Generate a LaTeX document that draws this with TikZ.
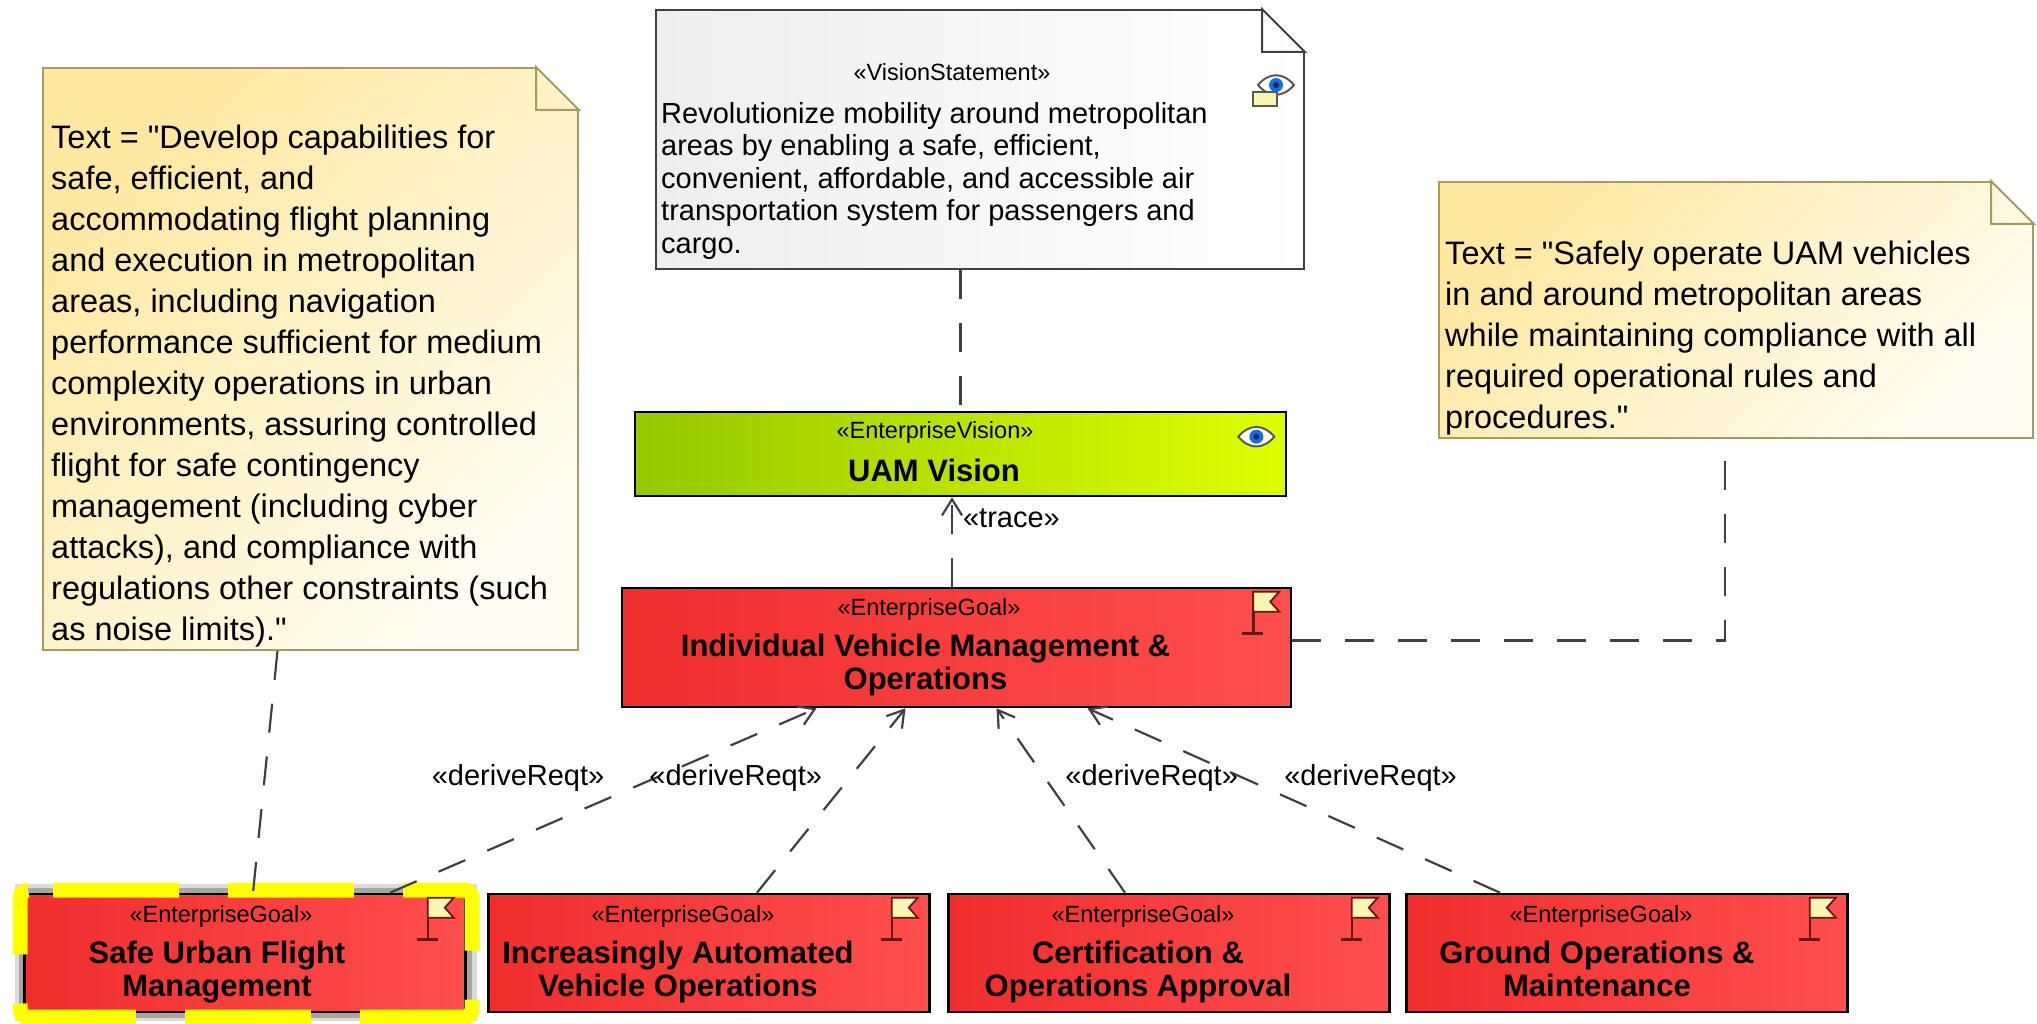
\documentclass[tikz,border=0pt]{standalone}
\usepackage{fontspec}
\setmainfont{Liberation Sans}[Ligatures=TeXOff]
\usetikzlibrary{arrows.meta,positioning}

\definecolor{goalred}{RGB}{240,46,46}
\definecolor{goalredlight}{RGB}{255,78,78}
\definecolor{visgreen}{RGB}{150,200,0}
\definecolor{visyellow}{RGB}{222,255,0}
\definecolor{noteyellow}{RGB}{255,232,160}
\definecolor{notewhite}{RGB}{255,253,242}
\definecolor{noteborder}{RGB}{168,152,98}
\definecolor{visgray}{RGB}{238,238,238}
\definecolor{linkgray}{RGB}{64,64,64}
\definecolor{eyeblue}{RGB}{20,110,230}
\definecolor{flagpole}{RGB}{110,20,20}
\definecolor{flagfill}{RGB}{248,246,175}
\definecolor{hiyellow}{RGB}{255,255,0}

\newcommand{\notefont}{\fontsize{32.5}{41}\selectfont}
\newcommand{\visfont}{\fontsize{29}{32.5}\selectfont}
\newcommand{\stereofont}{\fontsize{23.5}{28}\selectfont}
\newcommand{\titlefont}{\fontsize{31}{33}\selectfont\bfseries}
\newcommand{\linkfont}{\fontsize{29}{32}\selectfont}

% folded corner of a note
\newcommand{\notefold}[2]{%
  \fill[white] ([shift={(-43,0)}]#1.north east) -- ++(0,-3) -- ++(46,0) -- ++(0,46) -- ++(-3,0) -- cycle;
  \draw[#2, line width=2pt, line join=miter] ([shift={(-43,0)}]#1.north east) -- ++(0,43) -- ++(43,0) -- cycle;
}
% goal flag
\newcommand{\goalflag}[1]{%
  \begin{scope}[shift={(#1.north east)}]
    \draw[flagpole, line width=2.5pt] (-39,5) -- (-39,47);
    \draw[flagpole, line width=2.5pt] (-50,47) -- (-29,47);
    \draw[flagpole, line width=1.8pt, fill=flagfill] (-39,5) -- (-13,5) -- (-22,15) -- (-13,25) -- (-39,25) -- cycle;
  \end{scope}}
% eye
\newcommand{\eyeicon}[1]{%
  \begin{scope}[shift={(#1)}]
    \draw[gray!70!black, line width=2pt, fill=white] (-18,0) .. controls (-7,-13) and (7,-13) .. (18,0) .. controls (7,13) and (-7,13) .. (-18,0) -- cycle;
    \fill[eyeblue] (0,0) circle (7);
    \fill[eyeblue!40!black] (0,0) circle (3);
  \end{scope}}

\tikzset{
  goalbox/.style={draw=black, line width=2.6pt, left color=goalred, right color=goalredlight,
    minimum width=441pt, minimum height=118pt, inner sep=0pt},
  visionbox/.style={draw=black, line width=2.6pt, left color=visgreen, right color=visyellow,
    minimum width=651pt, minimum height=84pt, inner sep=0pt},
  notebox/.style={draw=noteborder, line width=2pt, top color=noteyellow, bottom color=notewhite,
    shading angle=45, inner sep=0pt},
  statebox/.style={draw=black!75, line width=2pt, left color=visgray, right color=white, inner sep=0pt},
  stereo/.style={font=\stereofont, inner sep=0pt},
  goaltitle/.style={font=\titlefont, align=center, inner sep=0pt},
  notetext/.style={font=\notefont, align=left, inner sep=0pt, anchor=north west},
  link/.style={draw=linkgray, line width=2.2pt, dash pattern=on 29pt off 24pt},
  derive/.style={link, -{Straight Barb[length=16pt,width=20pt]}},
  linklabel/.style={font=\linkfont, inner sep=0pt},
}

\begin{document}
\begin{tikzpicture}[x=1pt, y=-1pt]
  \useasboundingbox (0,0) rectangle (2037,1024);

  % notes
  \node[notebox, minimum width=535pt, minimum height=582pt] (lnote) at (310.5,359) {};
  \notefold{lnote}{noteborder}
  \node[notetext] (lnote-t) at ([shift={(9,58)}]lnote.north west) {Text = "Develop capabilities for\\
    safe, efficient, and\\
    accommodating flight planning\\
    and execution in metropolitan\\
    areas, including navigation\\
    performance sufficient for medium\\
    complexity operations in urban\\
    environments, assuring controlled\\
    flight for safe contingency\\
    management (including cyber\\
    attacks), and compliance with\\
    regulations other constraints (such\\
    as noise limits)."};

  \node[statebox, minimum width=648pt, minimum height=259pt] (vision) at (980,139.5) {};
  \notefold{vision}{black!75}
  \node[stereo] (vision-s) at ([shift={(-28,63)}]vision.north) {«VisionStatement»};
  \node[notetext, font=\visfont] (vision-t) at ([shift={(6,93)}]vision.north west) {Revolutionize mobility around metropolitan\\
    areas by enabling a safe, efficient,\\
    convenient, affordable, and accessible air\\
    transportation system for passengers and\\
    cargo.};
  \eyeicon{[shift={(-29,76)}]vision.north east}
  \draw[gray!70!black, line width=1.5pt, fill=flagfill] ([shift={(-52,83)}]vision.north east) rectangle ([shift={(-28,97)}]vision.north east);

  \node[notebox, minimum width=594pt, minimum height=256pt] (rnote) at (1736,310) {};
  \notefold{rnote}{noteborder}
  \node[notetext] (rnote-t) at ([shift={(7,60)}]rnote.north west) {Text = "Safely operate UAM vehicles\\
    in and around metropolitan areas\\
    while maintaining compliance with all\\
    required operational rules and\\
    procedures."};

  % vision and goals
  \node[visionbox] (uam) at (960.5,454) {};
  \node[stereo] (uam-s) at ([shift={(-25.5,22)}]uam.north) {«EnterpriseVision»};
  \node[goaltitle] (uam-t) at ([shift={(-26.5,16)}]uam.center) {UAM Vision};
  \eyeicon{[shift={(-31,26)}]uam.north east}

  \node[goalbox, minimum width=669pt, minimum height=119pt] (ivm) at (956.5,647.5) {};
  \node[stereo] (ivm-s) at ([shift={(-27.5,23)}]ivm.north) {«EnterpriseGoal»};
  \node[goaltitle] (ivm-t) at ([shift={(-31,19)}]ivm.center) {Individual Vehicle Management \&\strut\\Operations\strut};
  \goalflag{ivm}

  % selection highlight
  \fill[gray!35, opacity=0.8] (15,884) rectangle (477,1021);
  \fill[gray!70] (19,888) rectangle (472,1018);
  \node[goalbox] (sufm) at (245,953) {};
  \draw[hiyellow, line width=15pt, rounded corners=8pt, dash pattern=on 126pt off 49pt, dash phase=150pt]
    (20,890) -- (472,890) -- (472,1017) -- (20,1017) -- cycle;
  \node[stereo] (sufm-s) at ([shift={(-24,24)}]sufm.north) {«EnterpriseGoal»};
  \node[goaltitle] (sufm-t) at ([shift={(-28,20)}]sufm.center) {Safe Urban Flight\strut\\Management\strut};
  \goalflag{sufm}

  \node[goalbox] (iavo) at (709,953) {};
  \node[stereo] (iavo-s) at ([shift={(-26,24)}]iavo.north) {«EnterpriseGoal»};
  \node[goaltitle] (iavo-t) at ([shift={(-31,20)}]iavo.center) {Increasingly Automated\strut\\Vehicle Operations\strut};
  \goalflag{iavo}

  \node[goalbox] (coa) at (1169,953) {};
  \node[stereo] (coa-s) at ([shift={(-26,24)}]coa.north) {«EnterpriseGoal»};
  \node[goaltitle] (coa-t) at ([shift={(-31,20)}]coa.center) {Certification \&\strut\\Operations Approval\strut};
  \goalflag{coa}

  \node[goalbox] (gom) at (1627,953) {};
  \node[stereo] (gom-s) at ([shift={(-26,24)}]gom.north) {«EnterpriseGoal»};
  \node[goaltitle] (gom-t) at ([shift={(-30,20)}]gom.center) {Ground Operations \&\strut\\Maintenance\strut};
  \goalflag{gom}

  % connectors
  \draw[link] (uam.north |- vision.south) -- (uam.north);
  \draw[derive] ([xshift=-4.5pt]ivm.north) -- ([xshift=-4.5pt]ivm.north |- uam.south)
    node[linklabel, anchor=north west, xshift=10pt, yshift=-10pt] (trace-l) {«trace»};
  \draw[link] ([yshift=7pt]ivm.east) -| ([xshift=-11pt]rnote.south);
  \draw[link] ([xshift=-33pt]lnote.south) -- ([xshift=8pt]sufm.north);

  \draw[derive] ([xshift=145pt]sufm.north) -- node[linklabel, pos=0.62, left=49pt] (d1) {«deriveReqt»} ([xshift=-140pt]ivm.south);
  \draw[derive] ([xshift=48pt]iavo.north) -- node[linklabel, pos=0.62, left=26pt] (d2) {«deriveReqt»} ([xshift=-51pt]ivm.south);
  \draw[derive] ([xshift=-44pt]coa.north) -- node[linklabel, pos=0.62, right=19pt] (d3) {«deriveReqt»} ([xshift=40pt]ivm.south);
  \draw[derive] ([xshift=-127pt]gom.north) -- node[linklabel, pos=0.62, right=39pt] (d4) {«deriveReqt»} ([xshift=131pt]ivm.south);

\end{tikzpicture}
\end{document}
